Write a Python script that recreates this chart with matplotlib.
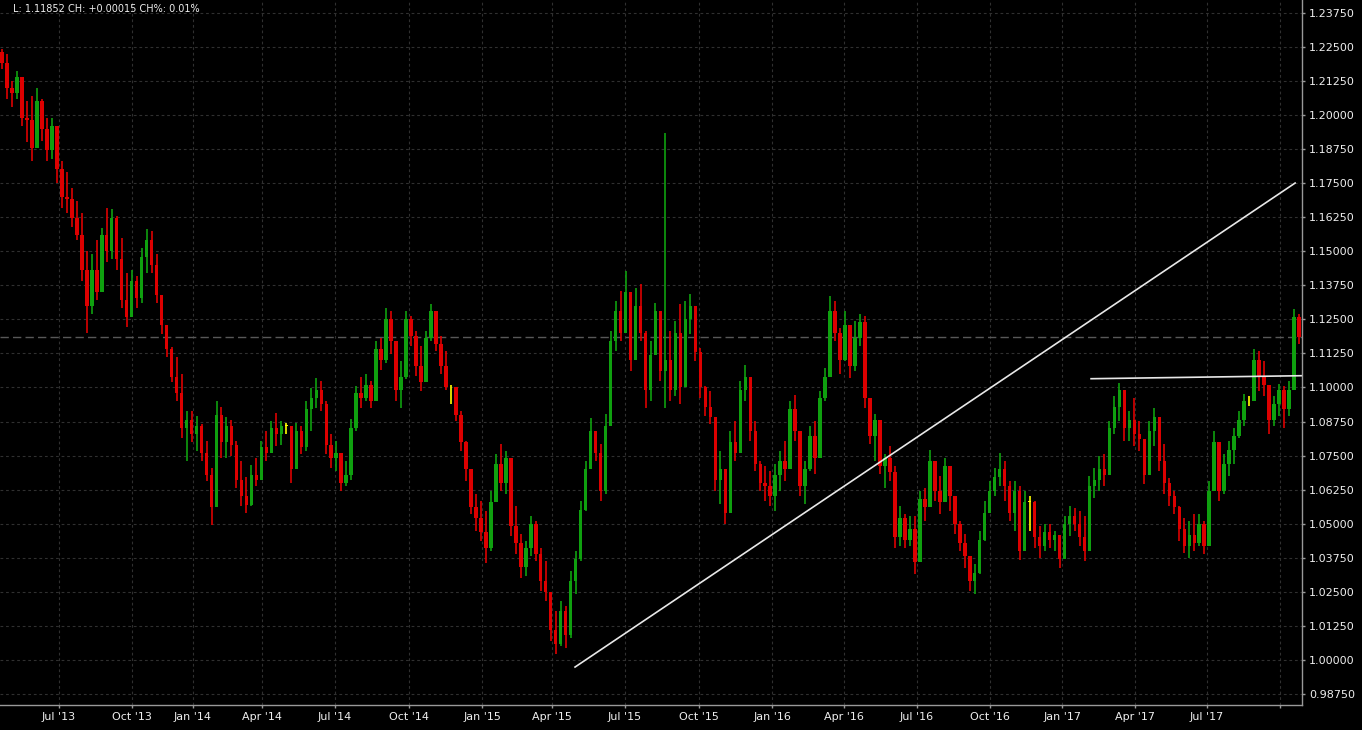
import numpy as np
import matplotlib
matplotlib.use('Agg')
import matplotlib.pyplot as plt

# candle data, one candle per ~5 px of the original chart (open = previous close)
first_open = 1.2230
closes = [
    1.2190, 1.2100, 1.2080, 1.2140, 1.1990, 1.1980, 1.1880, 1.2050, 1.1950, 1.1870,
    1.1960, 1.1800, 1.1700, 1.1690, 1.1620, 1.1560, 1.1430, 1.1300, 1.1430, 1.1350,
    1.1560, 1.1500, 1.1620, 1.1470, 1.1320, 1.1260, 1.1390, 1.1330, 1.1480, 1.1540,
    1.1450, 1.1340, 1.1230, 1.1140, 1.1040, 1.0980, 1.0850, 1.0880, 1.0830, 1.0860,
    1.0760, 1.0680, 1.0560, 1.0900,
    1.0800, 1.0860, 1.0790, 1.0660, 1.0600, 1.0570, 1.0680, 1.0660, 1.0780, 1.0760,
    1.0850, 1.0830, 1.0860, 1.0860, 1.0700, 1.0840, 1.0780, 1.0920, 1.0960, 1.0990,
    1.0940, 1.0790, 1.0740, 1.0760, 1.0650, 1.0680, 1.0850, 1.0980, 1.0960, 1.1010,
    1.0950, 1.1140, 1.1100, 1.1250, 1.1170, 1.0990, 1.1040, 1.1250, 1.1190, 1.1080,
    1.1020, 1.1180, 1.1280,
    1.1160, 1.1080, 1.1000, 1.1000, 1.0900, 1.0800, 1.0700, 1.0560, 1.0520, 1.0470,
    1.0410, 1.0580, 1.0720, 1.0650, 1.0740, 1.0490, 1.0430, 1.0340, 1.0410, 1.0500,
    1.0390, 1.0290, 1.0250, 1.0110, 1.0060, 1.0180, 1.0090, 1.0290, 1.0370, 1.0550,
    1.0700, 1.0840, 1.0760, 1.0620, 1.0860, 1.1170, 1.1280, 1.1200, 1.1350, 1.1100,
    1.1300, 1.1200, 1.0990,
    1.1120, 1.1280, 1.1060, 1.1100, 1.0990, 1.1200, 1.1000, 1.1250, 1.1300, 1.1130,
    1.1000, 1.0930, 1.0890, 1.0660, 1.0700, 1.0540, 1.0800, 1.0760, 1.0990, 1.1040,
    1.0840, 1.0720, 1.0650, 1.0640, 1.0600, 1.0680, 1.0730, 1.0700, 1.0920, 1.0840,
    1.0640, 1.0700, 1.0820, 1.0740, 1.0960, 1.1040, 1.1280, 1.1200, 1.1100, 1.1230,
    1.1080, 1.1180, 1.1240,
    1.0960, 1.0820, 1.0880, 1.0710, 1.0740, 1.0690, 1.0450, 1.0520, 1.0440, 1.0480,
    1.0360, 1.0590, 1.0560, 1.0730, 1.0620, 1.0580, 1.0710, 1.0600, 1.0500, 1.0430,
    1.0380, 1.0290, 1.0320, 1.0440, 1.0540, 1.0620, 1.0670, 1.0700, 1.0640, 1.0540,
    1.0620, 1.0400, 1.0580, 1.0580, 1.0450, 1.0420, 1.0470, 1.0440, 1.0460, 1.0370,
    1.0500, 1.0530, 1.0500,
    1.0450, 1.0400, 1.0640, 1.0660, 1.0700, 1.0680, 1.0850, 1.0930, 1.0990, 1.0850,
    1.0880, 1.0830, 1.0810, 1.0680, 1.0840, 1.0890, 1.0730, 1.0650, 1.0600, 1.0560,
    1.0480, 1.0420, 1.0460, 1.0430, 1.0500, 1.0420, 1.0620, 1.0800, 1.0620, 1.0720,
    1.0770, 1.0820, 1.0880, 1.0950, 1.0950, 1.1100, 1.1040, 1.1010, 1.0880, 1.0940,
    1.0990, 1.0920, 1.0990, 1.1260, 1.11852,
]
highs = [
    1.2243, 1.2225, 1.2125, 1.2162, 1.2120, 1.2050, 1.2070, 1.2100, 1.2060, 1.1990,
    1.1990, 1.1950, 1.1830, 1.1790, 1.1730, 1.1685, 1.1640, 1.1500, 1.1490, 1.1540,
    1.1585, 1.1660, 1.1655, 1.1630, 1.1550, 1.1420, 1.1430, 1.1410, 1.1510, 1.1580,
    1.1575, 1.1490, 1.1320, 1.1220, 1.1150, 1.1110, 1.1050, 1.0915, 1.0915, 1.0895,
    1.0865, 1.0805, 1.0705, 1.0950,
    1.0930, 1.0890, 1.0880, 1.0805, 1.0730, 1.0670, 1.0715, 1.0740, 1.0805, 1.0840,
    1.0877, 1.0905, 1.0877, 1.0870, 1.0860, 1.0870, 1.0860, 1.0950, 1.0998, 1.1035,
    1.1025, 1.0950, 1.0830, 1.0805, 1.0757, 1.0730, 1.0885, 1.1005, 1.1040, 1.1050,
    1.1025, 1.1171, 1.1180, 1.1292, 1.1281, 1.1150, 1.1098, 1.1281, 1.1263, 1.1208,
    1.1153, 1.1208, 1.1306,
    1.1281, 1.1190, 1.1134, 1.1010, 1.0977, 1.0914, 1.0805, 1.0675, 1.0610, 1.0584,
    1.0547, 1.0620, 1.0757, 1.0793, 1.0767, 1.0700, 1.0565, 1.0463, 1.0437, 1.0529,
    1.0510, 1.0411, 1.0363, 1.0217, 1.0180, 1.0217, 1.0198, 1.0327, 1.0400, 1.0584,
    1.0731, 1.0888, 1.0841, 1.0793, 1.0903, 1.1208, 1.1318, 1.1355, 1.1428, 1.1318,
    1.1366, 1.1380, 1.1208,
    1.1171, 1.1311, 1.1281, 1.1932, 1.1208, 1.1244, 1.1306, 1.1318, 1.1344, 1.1281,
    1.1145, 1.1006, 1.0988, 1.0804, 1.0767, 1.0694, 1.0841, 1.0877, 1.1024, 1.1083,
    1.1024, 1.0877, 1.0731, 1.0712, 1.0694, 1.0720, 1.0767, 1.0804, 1.0951, 1.0973,
    1.0767, 1.0731, 1.0859, 1.0877, 1.0988, 1.1072, 1.1336, 1.1318, 1.1219, 1.1281,
    1.1208, 1.1244, 1.1270,
    1.1263, 1.0925, 1.0903, 1.0804, 1.0757, 1.0786, 1.0712, 1.0565, 1.0536, 1.0529,
    1.0529, 1.0620, 1.0631, 1.0771, 1.0731, 1.0675, 1.0742, 1.0712, 1.0602, 1.0510,
    1.0463, 1.0363, 1.0352, 1.0474, 1.0584, 1.0657, 1.0705, 1.0760, 1.0731, 1.0657,
    1.0657, 1.0639, 1.0620, 1.0602, 1.0584, 1.0492, 1.0499, 1.0499, 1.0474, 1.0460,
    1.0529, 1.0565, 1.0558,
    1.0547, 1.0529, 1.0675, 1.0705, 1.0749, 1.0757, 1.0877, 1.0969, 1.1017, 1.0990,
    1.0914, 1.0962, 1.0877, 1.0810, 1.0877, 1.0925, 1.0890, 1.0793, 1.0668, 1.0620,
    1.0565, 1.0521, 1.0510, 1.0536, 1.0536, 1.0510, 1.0657, 1.0841, 1.0800, 1.0757,
    1.0804, 1.0852, 1.0914, 1.0976, 1.0969, 1.1142, 1.1134, 1.1098, 1.1010, 1.0969,
    1.1013, 1.1006, 1.1024, 1.1288, 1.1270,
]
lows = [
    1.2170, 1.2060, 1.2030, 1.2060, 1.1960, 1.1900, 1.1830, 1.1900, 1.1905, 1.1830,
    1.1840, 1.1750, 1.1660, 1.1640, 1.1590, 1.1540, 1.1390, 1.1200, 1.1270, 1.1320,
    1.1390, 1.1460, 1.1470, 1.1430, 1.1290, 1.1220, 1.1280, 1.1290, 1.1310, 1.1420,
    1.1420, 1.1310, 1.1195, 1.1110, 1.1020, 1.0950, 1.0815, 1.0730, 1.0800, 1.0765,
    1.0730, 1.0655, 1.0496, 1.0560,
    1.0740, 1.0740, 1.0750, 1.0630, 1.0565, 1.0540, 1.0565, 1.0640, 1.0675, 1.0730,
    1.0767, 1.0785, 1.0790, 1.0830, 1.0650, 1.0730, 1.0755, 1.0767, 1.0840, 1.0925,
    1.0915, 1.0755, 1.0705, 1.0694, 1.0620, 1.0640, 1.0660, 1.0840, 1.0925, 1.0950,
    1.0925, 1.0950, 1.1065, 1.1090, 1.1123, 1.0951, 1.0925, 1.1030, 1.1153, 1.1043,
    1.0988, 1.1024, 1.1171,
    1.1134, 1.1050, 1.0990, 1.0940, 1.0877, 1.0767, 1.0657, 1.0535, 1.0474, 1.0437,
    1.0356, 1.0400, 1.0584, 1.0620, 1.0610, 1.0455, 1.0390, 1.0300, 1.0308, 1.0382,
    1.0363, 1.0253, 1.0217, 1.0070, 1.0022, 1.0050, 1.0044, 1.0080, 1.0242, 1.0363,
    1.0547, 1.0700, 1.0731, 1.0584, 1.0610, 1.0860, 1.1134, 1.1171, 1.1208, 1.1061,
    1.1134, 1.1171, 1.0925,
    1.0951, 1.1134, 1.1024, 1.0925, 1.0951, 1.0969, 1.0940, 1.1024, 1.1197, 1.1098,
    1.0962, 1.0896, 1.0866, 1.0620, 1.0573, 1.0500, 1.0540, 1.0731, 1.0760, 1.0951,
    1.0804, 1.0694, 1.0620, 1.0584, 1.0565, 1.0547, 1.0620, 1.0657, 1.0700, 1.0804,
    1.0602, 1.0573, 1.0694, 1.0683, 1.0740, 1.0951, 1.1040, 1.1171, 1.1050, 1.1098,
    1.1035, 1.1061, 1.1153,
    1.0925, 1.0793, 1.0731, 1.0683, 1.0631, 1.0657, 1.0411, 1.0418, 1.0411, 1.0418,
    1.0316, 1.0360, 1.0510, 1.0560, 1.0584, 1.0536, 1.0584, 1.0547, 1.0463, 1.0400,
    1.0338, 1.0253, 1.0242, 1.0316, 1.0437, 1.0547, 1.0602, 1.0639, 1.0584, 1.0510,
    1.0474, 1.0367, 1.0400, 1.0474, 1.0411, 1.0374, 1.0400, 1.0411, 1.0400, 1.0338,
    1.0370, 1.0455, 1.0474,
    1.0418, 1.0363, 1.0400, 1.0595, 1.0620, 1.0639, 1.0680, 1.0830, 1.0877, 1.0804,
    1.0804, 1.0786, 1.0767, 1.0646, 1.0680, 1.0786, 1.0694, 1.0609, 1.0565, 1.0536,
    1.0437, 1.0393, 1.0374, 1.0400, 1.0418, 1.0389, 1.0420, 1.0620, 1.0584, 1.0609,
    1.0675, 1.0720, 1.0815, 1.0859, 1.0932, 1.0951, 1.0988, 1.0969, 1.0830, 1.0859,
    1.0896, 1.0852, 1.0896, 1.0990, 1.1160,
]

# date ticks, placed in candle-index units
tick_pos = [11.33, 26.06, 38.19, 52.13, 66.76, 81.60, 96.23, 110.27, 124.90,
            139.74, 154.37, 168.70, 183.34, 198.08, 212.51, 227.15, 241.58, 256.22]
tick_labels = ["Jul '13", "Oct '13", "Jan '14", "Apr '14", "Jul '14", "Oct '14",
               "Jan '15", "Apr '15", "Jul '15", "Oct '15", "Jan '16", "Apr '16",
               "Jul '16", "Oct '16", "Jan '17", "Apr '17", "Jul '17", ""]
price_ticks = np.arange(0.9875, 1.2376, 0.0125)

# drawn trend lines (candle index, price)
trend1_x = [114.87, 259.22]
trend1_y = [0.9974, 1.1750]
trend2_x = [218.32, 260.42]
trend2_y = [1.1032, 1.1043]

last_price = 1.11852
header = "L: 1.11852 CH: +0.00015 CH%: 0.01%"

closes = np.array(closes)
opens = np.concatenate([[first_open], closes[:-1]])
highs = np.maximum(np.array(highs), np.maximum(opens, closes))
lows = np.minimum(np.array(lows), np.minimum(opens, closes))
idx = np.arange(len(closes))

colors = np.where(closes > opens, '#0fa00f', np.where(closes < opens, '#dd0000', '#ffff00'))

fig = plt.figure(figsize=(13.62, 7.30), dpi=100, facecolor='black')
ax = fig.add_axes([0, 0.0347, 1302 / 1362, 0.9653])
ax.set_facecolor('black')

# grid
for p in price_ticks:
    ax.axhline(p, color='#303030', lw=0.8, ls=(0, (2.5, 2.5)), zorder=0)
for t in tick_pos:
    ax.axvline(t, color='#303030', lw=0.8, ls=(0, (2.5, 2.5)), zorder=0)

# last price line
ax.axhline(last_price, color='#585858', lw=1, ls=(0, (6, 3)), zorder=1)

# candles
ax.vlines(idx, lows, highs, colors=colors, lw=1.2, zorder=2)
body_h = np.abs(closes - opens)
body_h = np.maximum(body_h, 0.0002)
ax.bar(idx, body_h, bottom=np.minimum(opens, closes), width=0.7,
       color=colors, linewidth=0, zorder=3)

# trend lines
ax.plot(trend1_x, trend1_y, color='#e8e8e8', lw=1.2, zorder=4)
ax.plot(trend2_x, trend2_y, color='#e8e8e8', lw=1.2, zorder=4)

ax.set_xlim(-0.4, 260.6)
ax.set_ylim(0.9836, 1.24216)

ax.yaxis.tick_right()
ax.set_yticks(price_ticks)
ax.set_yticklabels(['%.5f' % p for p in price_ticks])
ax.set_xticks(tick_pos)
ax.set_xticklabels(tick_labels)
ax.tick_params(axis='both', colors='#999999', labelcolor='#eeeeee',
               labelsize=8, length=2.5, width=1, pad=2.5)

for s in ['left', 'top']:
    ax.spines[s].set_visible(False)
for s in ['right', 'bottom']:
    ax.spines[s].set_color('#999999')
    ax.spines[s].set_linewidth(1)

fig.text(13 / 1362, 1 - 9 / 730, header, color='#eeeeee', fontsize=7,
         va='center', ha='left')

fig.savefig('out.png', dpi=100, facecolor='black')
